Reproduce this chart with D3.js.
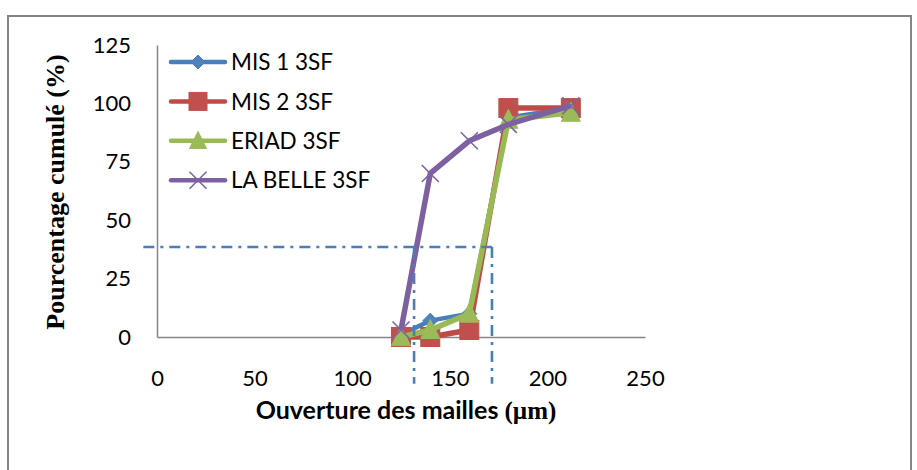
<!DOCTYPE html>
<html>
<head>
<meta charset="utf-8">
<script src="https://cdn.jsdelivr.net/npm/d3@7"></script>
<style>
    body { margin: 0; background: #fff; }
    #chart text { fill: #000; }
</style>
</head>
<body>
<div id="chart"></div>
<script>
// ouvertures des tamis (µm)
const sieves = [125, 140, 160, 180, 212];
const mis1 = [1, 7, 10, 94, 98];
const mis2 = [0, 0, 3, 98, 98];
const eriad = [0, 3, 10, 93, 96];
const laBelle = [3, 70, 84, 91, 99];

const seriesNames = ["MIS 1 3SF", "MIS 2 3SF", "ERIAD 3SF", "LA BELLE 3SF"];
const xTicks = [0, 50, 100, 150, 200, 250];
const yTicks = [0, 25, 50, 75, 100, 125];

// lignes de lecture (pointillés) : niveau % et deux ouvertures
const refLevel = 38.5;
const refOpenings = [131.7, 171.6];
const refLeft = -7, refBottom = -20;

const width = 917, height = 470;

const colors = ["#4A7EBB", "#BE4B48", "#98B954", "#7D60A0"];
const fills = ["#4F81BD", "#C0504D", "#9BBB59", "#8064A2"];
const shapes = ["diamond", "square", "triangle", "cross"];

let svg = d3.select('#chart')
    .append('svg')
    .attr('width', width)
    .attr('height', height);

svg.append('rect')
    .attr('width', width).attr('height', height)
    .attr('fill', '#fff');

// cadre du graphique
svg.append('rect')
    .attr('x', 8).attr('y', 16)
    .attr('width', 903).attr('height', 480)
    .attr('fill', 'none')
    .attr('stroke', '#858585')
    .attr('stroke-width', 2);

let x = d3.scaleLinear().domain([0, 250]).range([157, 645]);
let y = d3.scaleLinear().domain([0, 125]).range([337, 45]);

let xAxis = svg.append('g')
    .attr('transform', 'translate(0,' + y(0) + ')')
    .call(d3.axisBottom(x).tickValues(xTicks).tickSize(0).tickPadding(33));
let yAxis = svg.append('g')
    .attr('transform', 'translate(' + x(0) + ',0)')
    .call(d3.axisLeft(y).tickValues(yTicks).tickSize(0).tickPadding(26));

[xAxis, yAxis].forEach(a => {
    a.select('.domain').attr('stroke', '#868686').attr('stroke-width', 1.5);
    a.selectAll('text')
        .style('font-family', 'Lato, sans-serif')
        .style('font-size', '22px');
});

// titres des axes
svg.append('text')
    .attr('transform', 'translate(64,192) rotate(-90)')
    .attr('text-anchor', 'middle')
    .style('font-family', '"Liberation Serif", "Times New Roman", serif')
    .style('font-weight', 'bold')
    .style('font-size', '26px')
    .text('Pourcentage cumulé (%)');

let xt = svg.append('text')
    .attr('x', 406).attr('y', 419)
    .attr('text-anchor', 'middle')
    .style('font-weight', 'bold')
    .style('font-size', '25px');
xt.append('tspan').style('font-family', 'Lato, sans-serif').text('Ouverture des mailles ');
xt.append('tspan').style('font-family', '"Liberation Serif", serif').text('(µm)');

function marker(g, shape, i, s) {
    if (shape === 'diamond') {
        g.append('path')
            .attr('d', 'M0,' + (-s * 0.5) + 'L' + (s * 0.5) + ',0L0,' + (s * 0.5) + 'L' + (-s * 0.5) + ',0Z')
            .attr('fill', fills[i]).attr('stroke', colors[i]);
    } else if (shape === 'square') {
        g.append('rect')
            .attr('x', -s / 2).attr('y', -s / 2).attr('width', s).attr('height', s)
            .attr('fill', fills[i]).attr('stroke', fills[i]);
    } else if (shape === 'triangle') {
        g.append('path')
            .attr('d', 'M0,' + (-s * 0.55) + 'L' + (s / 2) + ',' + (s * 0.45) + 'L' + (-s / 2) + ',' + (s * 0.45) + 'Z')
            .attr('fill', fills[i]).attr('stroke', fills[i]);
    } else {
        let h = s / 2;
        g.append('path')
            .attr('d', 'M' + (-h) + ',' + (-h) + 'L' + h + ',' + h + 'M' + (-h) + ',' + h + 'L' + h + ',' + (-h))
            .attr('fill', 'none').attr('stroke', fills[i]).attr('stroke-width', 1.6);
    }
}

let series = [mis1, mis2, eriad, laBelle].map((vals, i) => ({
    name: seriesNames[i],
    points: vals.map((v, j) => ({ x: sieves[j], y: v }))
}));

let line = d3.line().x(d => x(d.x)).y(d => y(d.y));

let sizes = [15, 19, 19, 17];
series.forEach((s, i) => {
    let g = svg.append('g');
    g.append('path')
        .attr('d', line(s.points))
        .attr('fill', 'none')
        .attr('stroke', colors[i])
        .attr('stroke-width', i === 0 ? 4.5 : 5.5)
        .attr('stroke-linejoin', 'round');
    g.selectAll('.m')
        .data(s.points)
        .enter()
        .append('g')
        .attr('transform', d => 'translate(' + x(d.x) + ',' + y(d.y) + ')')
        .each(function () { marker(d3.select(this), shapes[i], i, sizes[i]); });
});

// légende
let legend = svg.append('g');
series.forEach((s, i) => {
    let ly = 62 + i * 39.4;
    legend.append('line')
        .attr('x1', 171).attr('x2', 225).attr('y1', ly).attr('y2', ly)
        .attr('stroke', colors[i]).attr('stroke-width', 4.5).attr('stroke-linecap', 'round');
    let m = legend.append('g').attr('transform', 'translate(198,' + ly + ')');
    marker(m, shapes[i], i, [14, 18, 17, 17][i]);
    legend.append('text')
        .attr('x', 231).attr('y', ly)
        .attr('dy', '0.36em')
        .style('font-family', 'Lato, sans-serif')
        .style('font-size', '22.5px')
        .text(s.name);
});

// pointillés de lecture
let dash = svg.append('g')
    .attr('fill', 'none')
    .attr('stroke', '#4A7EBB')
    .attr('stroke-width', 2.6)
    .attr('stroke-dasharray', '11,6,3,6');
dash.append('line')
    .attr('x1', x(refLeft)).attr('x2', x(refOpenings[1]))
    .attr('y1', y(refLevel)).attr('y2', y(refLevel));
refOpenings.forEach(o => {
    dash.append('line')
        .attr('x1', x(o)).attr('x2', x(o))
        .attr('y1', y(refLevel)).attr('y2', y(refBottom));
});
</script>
</body>
</html>
